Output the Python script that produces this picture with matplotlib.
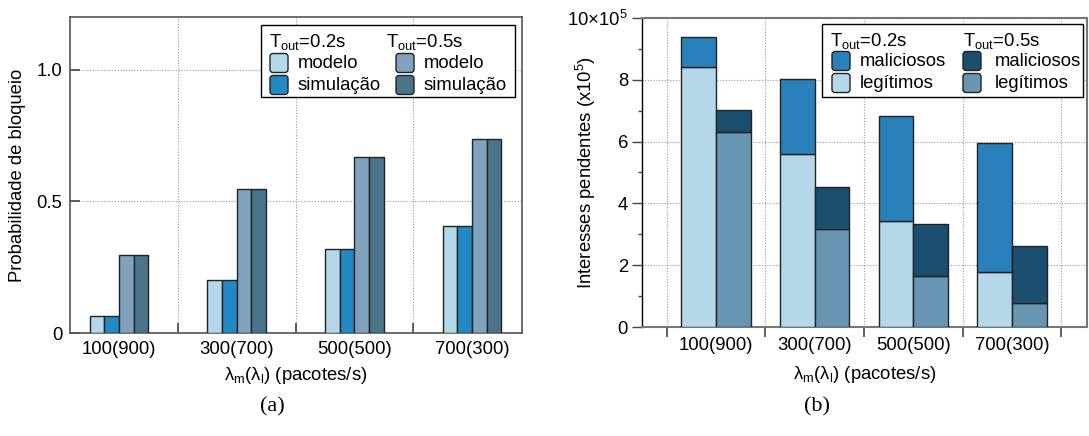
import matplotlib
matplotlib.use("Agg")
import matplotlib.pyplot as plt
import matplotlib.transforms as mtransforms
from matplotlib.patches import FancyBboxPatch, Rectangle
from matplotlib.ticker import FixedLocator, NullFormatter, FixedFormatter
import numpy as np

plt.rcParams['font.family'] = ['Liberation Sans', 'DejaVu Sans']
plt.rcParams['mathtext.fontset'] = 'custom'
plt.rcParams['mathtext.rm'] = 'Liberation Sans'
plt.rcParams['mathtext.it'] = 'Liberation Sans:italic'
plt.rcParams['mathtext.bf'] = 'Liberation Sans:bold'

# ---------------- data ----------------
categories = ["100(900)", "300(700)", "500(500)", "700(300)"]
# (a) blocking probability
modelo_02 = [0.063, 0.200, 0.318, 0.405]
simul_02 = [0.063, 0.200, 0.318, 0.405]
modelo_05 = [0.298, 0.548, 0.669, 0.737]
simul_05 = [0.298, 0.548, 0.669, 0.737]
# (b) pending interests (x10^5)
legit_02 = [8.43, 5.60, 3.42, 1.78]
malic_02 = [0.94, 2.41, 3.42, 4.17]
legit_05 = [6.31, 3.16, 1.66, 0.79]
malic_05 = [0.72, 1.36, 1.66, 1.84]
yticks_a = [0, 0.5, 1.0]
yticklabels_a = ["0", "0.5", "1.0"]
yticks_b = [0, 2, 4, 6, 8, 10]
yticklabels_b = ["0", "2", "4", "6", "8", "10×10$^{5}$"]

# ---------------- style ----------------
C_MOD02 = '#b4d7e9'
C_SIM02 = '#2389c5'
C_MOD05 = '#80a2bf'
C_SIM05 = '#4a7489'
C_MAL02 = '#2a80ba'
C_LEG02 = '#b4d7e9'
C_MAL05 = '#1b4f70'
C_LEG05 = '#6795b2'
EDGE = '#222222'
FS = 13.3
W, H = 1089, 436

fig = plt.figure(figsize=(W / 100, H / 100), dpi=100)
px = mtransforms.Affine2D().scale(1 / W, -1 / H).translate(0, 1) + fig.transFigure


def axes_px(x0, y0, x1, y1):
    return fig.add_axes([x0 / W, 1 - y1 / H, (x1 - x0) / W, (y1 - y0) / H])


# ---------------- panel (a) ----------------
ax1 = axes_px(69.5, 17, 522, 333)
x = np.arange(len(categories))
bw = 0.124
series_a = [(modelo_02, C_MOD02), (simul_02, C_SIM02), (modelo_05, C_MOD05), (simul_05, C_SIM05)]
for i, (vals, col) in enumerate(series_a):
    ax1.bar(x + (i - 1.5) * bw, vals, bw, color=col, edgecolor=EDGE, linewidth=1.0, zorder=3)
ax1.set_xlim(-0.42, 3.424)
ax1.set_ylim(0, 1.2)
ax1.xaxis.set_major_locator(FixedLocator([0.5, 1.5, 2.5]))
ax1.xaxis.set_major_formatter(NullFormatter())
ax1.xaxis.set_minor_locator(FixedLocator(list(x)))
ax1.xaxis.set_minor_formatter(FixedFormatter(categories))
ax1.tick_params(axis='x', which='major', direction='in', length=7, width=1.2, color='#444')
ax1.tick_params(axis='x', which='minor', length=0, pad=6, labelsize=FS)
ax1.set_yticks(yticks_a)
ax1.set_yticklabels(yticklabels_a)
ax1.tick_params(axis='y', which='major', direction='in', length=7, width=1.2, color='#444', pad=5, labelsize=FS)
ax1.grid(True, which='major', linestyle=(0, (1, 1.5)), color='#999999', linewidth=0.8, zorder=0)
for s in ax1.spines.values():
    s.set_color('#555555')
    s.set_linewidth(1.2)
ax1.set_ylabel("Probabilidade de bloqueio", fontsize=FS)
ax1.yaxis.set_label_coords(-0.096, 0.5)
ax1.set_xlabel("λ$_{\\mathrm{m}}$(λ$_{\\mathrm{l}}$) (pacotes/s)", fontsize=FS, va='top')
ax1.xaxis.set_label_coords(0.5, -0.10)

# ---------------- panel (b) ----------------
ax2 = axes_px(642, 18, 1087, 327)
bw2 = 0.35
ax2.bar(x - bw2 / 2, legit_02, bw2, color=C_LEG02, edgecolor=EDGE, linewidth=1.0, zorder=3)
ax2.bar(x - bw2 / 2, malic_02, bw2, bottom=legit_02, color=C_MAL02, edgecolor=EDGE, linewidth=1.0, zorder=3)
ax2.bar(x + bw2 / 2, legit_05, bw2, color=C_LEG05, edgecolor=EDGE, linewidth=1.0, zorder=3)
ax2.bar(x + bw2 / 2, malic_05, bw2, bottom=legit_05, color=C_MAL05, edgecolor=EDGE, linewidth=1.0, zorder=3)
ax2.set_xlim(-0.75, 3.76)
ax2.set_ylim(0, 10)
ax2.xaxis.set_major_locator(FixedLocator([-0.5, 0.5, 1.5, 2.5, 3.5]))
ax2.xaxis.set_major_formatter(NullFormatter())
ax2.xaxis.set_minor_locator(FixedLocator(list(x)))
ax2.xaxis.set_minor_formatter(FixedFormatter(categories))
ax2.tick_params(axis='x', which='major', direction='out', length=7, width=1.2, color='#444')
ax2.tick_params(axis='x', which='minor', length=0, pad=7, labelsize=FS)
ax2.set_yticks(yticks_b)
ax2.set_yticklabels(yticklabels_b)
ax2.yaxis.set_minor_locator(FixedLocator([1, 3, 5, 7, 9]))
ax2.tick_params(axis='y', which='major', direction='out', length=7, width=1.0, color='#444', pad=3, labelsize=FS)
ax2.tick_params(axis='y', which='minor', direction='out', length=3, width=1.0, color='#444')
ax2.grid(True, which='major', linestyle=(0, (1, 1.5)), color='#999999', linewidth=0.8, zorder=0)
for k, s in ax2.spines.items():
    if k == 'left':
        s.set_color('black')
        s.set_linewidth(1.0)
    else:
        s.set_color('#777777')
        s.set_linewidth(1.5)
ax2.set_ylabel("Interesses pendentes (x10$^{5}$)", fontsize=FS)
ax2.yaxis.set_label_coords(-0.10, 0.5)
ax2.set_xlabel("λ$_{\\mathrm{m}}$(λ$_{\\mathrm{l}}$) (pacotes/s)", fontsize=FS, va='top')
ax2.xaxis.set_label_coords(0.5, -0.12)


# ---------------- custom legends ----------------
def legend_box(x0, y0, x1, y1, headers, rows):
    fig.add_artist(Rectangle((x0, y0), x1 - x0, y1 - y0, transform=px, facecolor='white',
                             edgecolor='black', linewidth=1.0, zorder=10))
    for (hx, hy, txt) in headers:
        fig.text(hx, hy, txt, transform=px, fontsize=FS, va='baseline', ha='left', zorder=11)
    for (bx, cy, col, txt, tx) in rows:
        fig.add_artist(FancyBboxPatch((bx + 3, cy - 6.5), 12, 13, boxstyle='round,pad=3',
                                      transform=px, facecolor=col, edgecolor='#222222',
                                      linewidth=1.0, zorder=11))
        fig.text(tx, cy, txt, transform=px, fontsize=FS, va='center', ha='left', zorder=11)


legend_box(261, 25, 515, 97,
           [(269, 47, "T$_{\\mathrm{out}}$=0.2s"), (386, 47, "T$_{\\mathrm{out}}$=0.5s")],
           [(270, 63, C_MOD02, "modelo", 298), (270, 85, C_SIM02, "simulação", 298),
            (396, 63, C_MOD05, "modelo", 424), (396, 85, C_SIM05, "simulação", 424)])

legend_box(822, 24, 1083, 97,
           [(830, 46, "T$_{\\mathrm{out}}$=0.2s"), (963, 46, "T$_{\\mathrm{out}}$=0.5s")],
           [(832, 61, C_MAL02, "maliciosos", 860), (832, 83, C_LEG02, "legítimos", 860),
            (963, 61, C_MAL05, "maliciosos", 995), (963, 83, C_LEG05, "legítimos", 995)])

# captions
fig.text(272, 407, "(a)", transform=px, fontsize=16, family='Liberation Serif', ha='center', va='center')
fig.text(817, 407, "(b)", transform=px, fontsize=16, family='Liberation Serif', ha='center', va='center')

fig.savefig("out.png", dpi=100)
